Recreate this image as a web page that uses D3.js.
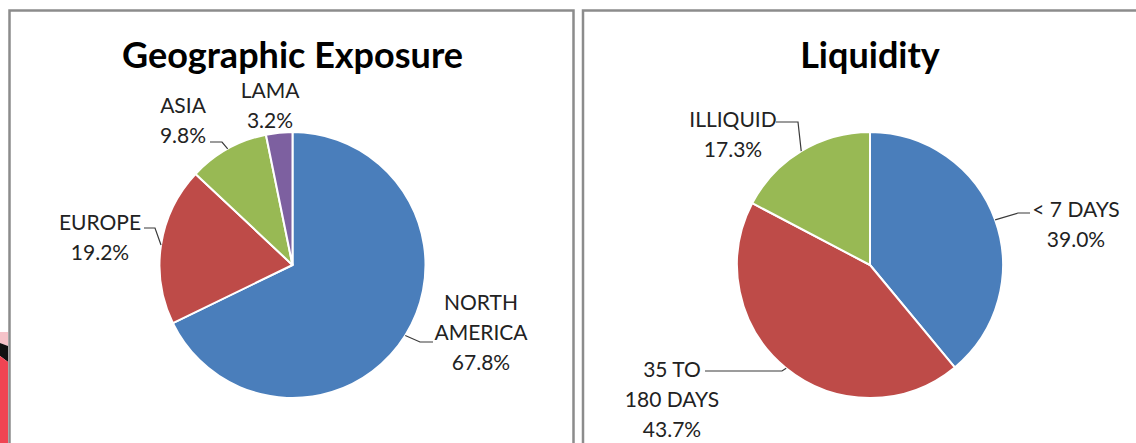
<!DOCTYPE html>
<html>
<head>
<meta charset="utf-8">
<script src="https://cdn.jsdelivr.net/npm/d3@7"></script>
<style>
  html, body { margin: 0; padding: 0; background: #fff; }
  svg { display: block; }
  text { font-family: Lato, "Open Sans", sans-serif; }
</style>
</head>
<body>
<svg id="chart" width="1136" height="443"></svg>
<script>
// ---- data ----
const geoCategories = ['NORTH AMERICA', 'EUROPE', 'ASIA', 'LAMA']
const geoValues = [67.8, 19.2, 9.8, 3.2]
const geoColors = ['#4a7ebb', '#be4b48', '#98b954', '#7d60a0']

const liqCategories = ['< 7 DAYS', '35 TO 180 DAYS', 'ILLIQUID']
const liqValues = [39.0, 43.7, 17.3]
const liqColors = ['#4a7ebb', '#be4b48', '#98b954']

// label layout: text lines, centre x, first baseline, leader (start, bend) or null
const geoLabelLayout = [
  { lines: ['NORTH', 'AMERICA'], x: 481, y: 310, leader: [[433, 342], [420, 342]] },
  { lines: ['EUROPE'], x: 100, y: 230, leader: [[144, 228], [155, 228]] },
  { lines: ['ASIA'], x: 183, y: 113, leader: [[210, 142], [222, 142]] },
  { lines: ['LAMA'], x: 270, y: 98, leader: null }
]
const liqLabelLayout = [
  { lines: ['< 7 DAYS'], x: 1076, y: 217, leader: [[1030, 213], [1018, 213]] },
  { lines: ['35 TO', '180 DAYS'], x: 672, y: 377, leader: [[705, 371], [782, 371]] },
  { lines: ['ILLIQUID'], x: 733, y: 127, leader: [[776, 122], [798, 122]] }
]

const svg = d3.select('#chart')
const fmt = d3.format('.1f')

// ---- background decoration at bottom-left ----
svg.append('path').attr('d', 'M0,332 L8,332 L8,346 L0,343 Z').attr('fill', '#f6c3c9')
svg.append('path').attr('d', 'M0,343 L8,346 L8,362 L0,356 Z').attr('fill', '#111')
svg.append('path').attr('d', 'M0,356 L8,362 L8,443 L0,443 Z').attr('fill', '#f04452')

// ---- panels ----
const panel = (x0, x1) => svg.append('path')
  .attr('d', `M${x0},450 L${x0},10.5 L${x1},10.5` + (x1 < 1136 ? ` L${x1},450` : ''))
  .attr('fill', 'none').attr('stroke', '#8c8c8c').attr('stroke-width', 2.5)
panel(9.5, 573.5)
panel(583, 1150)

const R = 133

const drawPie = function (cx, cy, title, cats, values, colors, layout) {
  const g = svg.append('g').attr('transform', `translate(${cx},${cy})`)
  const pie = d3.pie().sort(null).value(d => d)
  const arcs = pie(values)
  const arc = d3.arc().innerRadius(0).outerRadius(R)
  const rim = d3.arc().innerRadius(R).outerRadius(R)

  g.selectAll('path.slice').data(arcs).enter().append('path')
    .attr('class', 'slice')
    .attr('d', arc)
    .attr('fill', (d, i) => colors[i])
    .attr('stroke', '#fff')
    .attr('stroke-width', 2)
    .attr('stroke-linejoin', 'round')

  svg.append('text')
    .attr('x', cx).attr('y', 68)
    .attr('text-anchor', 'middle')
    .style('font-size', '36px').style('font-weight', 'bold').style('fill', '#000')
    .text(title)

  arcs.forEach((d, i) => {
    const L = layout[i]
    const lines = L.lines.concat([fmt(values[i]) + '%'])
    const t = svg.append('text')
      .attr('text-anchor', 'middle')
      .style('font-size', '21px').style('fill', '#222')
    lines.forEach((s, k) => {
      t.append('tspan').attr('x', L.x).attr('y', L.y + k * 30).text(s)
    })
    if (L.leader) {
      const [ex, ey] = rim.centroid(d)
      const pts = L.leader.concat([[cx + ex, cy + ey]])
      svg.append('path')
        .attr('d', d3.line()(pts))
        .attr('fill', 'none').attr('stroke', '#3a3a3a').attr('stroke-width', 1.2)
    }
  })
}

drawPie(292.5, 265, 'Geographic Exposure', geoCategories, geoValues, geoColors, geoLabelLayout)
drawPie(870, 265, 'Liquidity', liqCategories, liqValues, liqColors, liqLabelLayout)
</script>
</body>
</html>
